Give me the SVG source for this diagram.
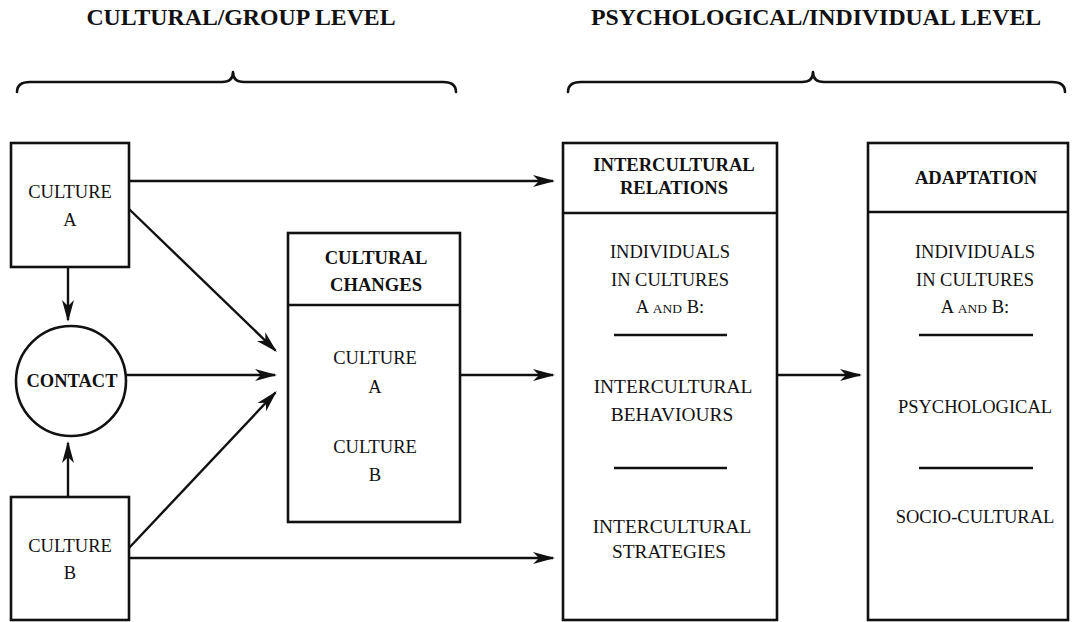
<svg xmlns="http://www.w3.org/2000/svg" width="1072" height="622" viewBox="0 0 1072 622">
  <style>
    .bg { fill: #ffffff; }
    .box { fill: none; stroke: #111; stroke-width: 2.6; }
    .rule { stroke: #111; stroke-width: 2.6; }
    .conn { stroke: #111; stroke-width: 2.4; fill: none; marker-end: url(#arrow); }
    .brace { fill: none; stroke: #111; stroke-width: 2.6; stroke-linecap: round; stroke-linejoin: round; }
    text { font-family: "Liberation Serif", "Times New Roman", serif; fill: #111; text-anchor: middle; }
    .lvl { font-size: 23.8px; font-weight: bold; }
    .hd { font-size: 18.6px; font-weight: bold; }
    .tx { font-size: 18.5px; }
    .wide { font-size: 19.4px; }
    .sc { font-size: 13.5px; }
  </style>
  <defs>
    <marker id="arrow" markerUnits="userSpaceOnUse" viewBox="0 0 22 14" refX="20" refY="7" markerWidth="22" markerHeight="14" orient="auto">
      <path d="M0,1 L22,7 L0,13 L6,7 Z" fill="#111"/>
    </marker>
  </defs>
  <rect class="bg" x="0" y="0" width="1072" height="622"/>

  <!-- level headings with braces -->
  <g id="level-cultural">
    <text class="lvl" x="241" y="25">CULTURAL/GROUP LEVEL</text>
    <path class="brace" d="M17,92 Q17,82 30,82 L222,82 Q233,82 233,72 Q233,82 244,82 L443,82 Q456,82 456,92"/>
  </g>
  <g id="level-psychological">
    <text class="lvl" x="816" y="25">PSYCHOLOGICAL/INDIVIDUAL LEVEL</text>
    <path class="brace" d="M568,92 Q568,82 581,82 L802,82 Q813,82 813,72 Q813,82 824,82 L1052,82 Q1065,82 1065,92"/>
  </g>

  <!-- connectors -->
  <g id="connectors">
    <line class="conn" x1="129" y1="181" x2="553" y2="181"/>
    <line class="conn" x1="129" y1="558" x2="553" y2="558"/>
    <line class="conn" x1="460" y1="375" x2="553" y2="375"/>
    <line class="conn" x1="777" y1="375" x2="860" y2="375"/>
    <line class="conn" x1="129" y1="209" x2="275.5" y2="350.5"/>
    <line class="conn" x1="126" y1="375" x2="275" y2="375"/>
    <line class="conn" x1="129" y1="548" x2="275.5" y2="392.5"/>
    <line class="conn" x1="68" y1="267" x2="68" y2="320"/>
    <line class="conn" x1="68" y1="497" x2="68" y2="443"/>
  </g>

  <g id="culture-a">
    <rect class="box" x="11" y="143" width="118" height="124"/>
    <text class="tx" x="70" y="198">CULTURE</text>
    <text class="tx" x="70" y="226">A</text>
  </g>

  <g id="contact">
    <circle class="box" cx="71" cy="381" r="55"/>
    <text class="tx" x="72" y="387" font-weight="bold">CONTACT</text>
  </g>

  <g id="culture-b">
    <rect class="box" x="11" y="497" width="118" height="123"/>
    <text class="tx" x="70" y="552">CULTURE</text>
    <text class="tx" x="70" y="579">B</text>
  </g>

  <g id="cultural-changes">
    <rect class="box" x="288" y="233" width="172" height="289"/>
    <line class="rule" x1="288" y1="305" x2="460" y2="305"/>
    <text class="hd" x="376" y="264">CULTURAL</text>
    <text class="hd" x="376" y="291">CHANGES</text>
    <text class="tx" x="375" y="364">CULTURE</text>
    <text class="tx" x="375" y="393">A</text>
    <text class="tx" x="375" y="453">CULTURE</text>
    <text class="tx" x="375" y="481">B</text>
  </g>

  <g id="intercultural-relations">
    <rect class="box" x="563" y="143" width="214" height="477"/>
    <line class="rule" x1="563" y1="213" x2="777" y2="213"/>
    <text class="hd" x="674" y="171">INTERCULTURAL</text>
    <text class="hd" x="674" y="194">RELATIONS</text>
    <text class="tx" x="670" y="258">INDIVIDUALS</text>
    <text class="tx" x="670" y="286">IN CULTURES</text>
    <text class="tx" x="670" y="313">A <tspan class="sc">AND</tspan> B:</text>
    <line class="rule" x1="614" y1="335" x2="727" y2="335"/>
    <text class="wide" x="673" y="393">INTERCULTURAL</text>
    <text class="wide" x="672" y="421">BEHAVIOURS</text>
    <line class="rule" x1="614" y1="468" x2="727" y2="468"/>
    <text class="wide" x="672" y="533">INTERCULTURAL</text>
    <text class="wide" x="669" y="558">STRATEGIES</text>
  </g>

  <g id="adaptation">
    <rect class="box" x="868" y="143" width="200" height="477"/>
    <line class="rule" x1="868" y1="212" x2="1068" y2="212"/>
    <text class="hd" x="976" y="184">ADAPTATION</text>
    <text class="tx" x="975" y="258">INDIVIDUALS</text>
    <text class="tx" x="975" y="286">IN CULTURES</text>
    <text class="tx" x="975" y="313">A <tspan class="sc">AND</tspan> B:</text>
    <line class="rule" x1="919" y1="335" x2="1033" y2="335"/>
    <text class="tx" x="975" y="413">PSYCHOLOGICAL</text>
    <line class="rule" x1="919" y1="468" x2="1033" y2="468"/>
    <text class="tx" x="975" y="523">SOCIO-CULTURAL</text>
  </g>
</svg>
